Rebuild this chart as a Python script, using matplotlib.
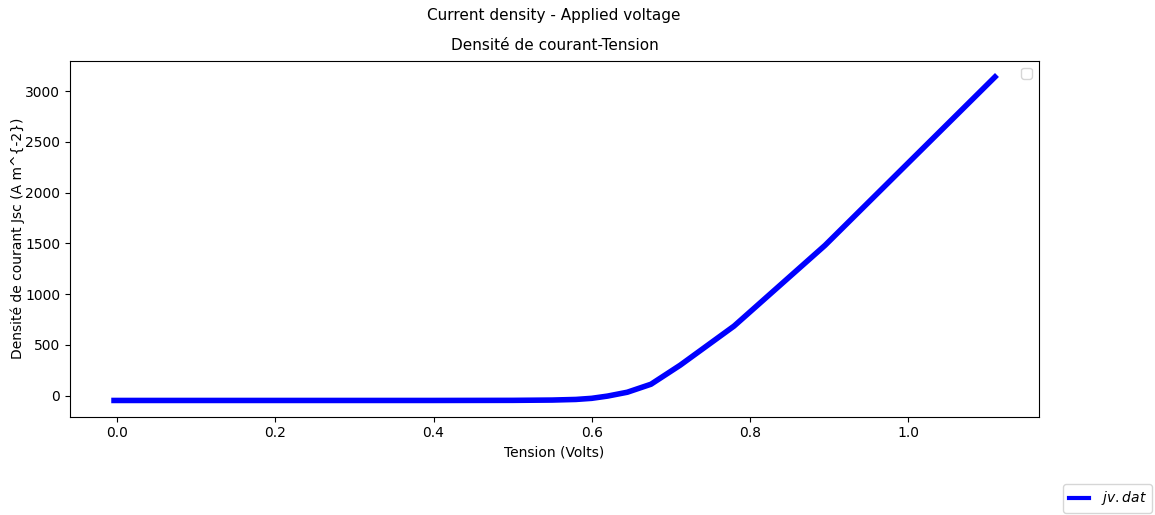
import matplotlib
matplotlib.use('Agg')
import matplotlib.pyplot as plt

# jv.dat values
voltage = [-0.004, 0.1, 0.2, 0.3, 0.4, 0.5, 0.55, 0.58, 0.6, 0.62, 0.645, 0.675,
           0.712, 0.78, 0.895, 1.11]
current = [-48, -48, -48, -48, -48, -47, -44, -38, -27, -5, 33, 112,
           300, 685, 1480, 3140]

fig = plt.figure(figsize=(11.55, 5.15), dpi=100)
ax = fig.add_axes([0.0606, 0.191, 0.839, 0.691])

ax.plot(voltage, current, color='blue', linewidth=4, label='$jv.dat$')
ax.set_xlabel('Tension (Volts)')
ax.set_ylabel('Densité de courant Jsc (A m^{-2})', labelpad=0)
ax.set_title('Densité de courant-Tension', fontsize=11, pad=8)

# empty legend box inside the axes, like the original
ax.legend(handles=[], loc='upper right')
leg = fig.legend(loc='lower right', bbox_to_anchor=(1152 / 1155, 2 / 515),
                 borderaxespad=0, handlelength=1.5)
leg.get_lines()[0].set_linewidth(3)
fig.suptitle('Current density - Applied voltage', fontsize=11,
             x=0.4797, y=0.985)

fig.savefig('out.png', dpi=100)
